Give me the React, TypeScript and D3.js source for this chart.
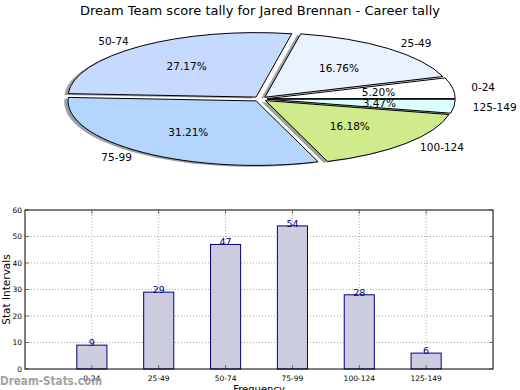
import React from 'react';
import * as d3 from 'd3';

const categories = ['0-24', '25-49', '50-74', '75-99', '100-124', '125-149'];
const values = [9, 29, 47, 54, 28, 6];
const pieColors = ['#ffffff', '#eaf2ff', '#c6d9fe', '#b4d6fe', '#d0eb8b', '#dcfffe'];
const yTicks = [0, 10, 20, 30, 40, 50, 60];
const title = 'Dream Team score tally for Jared Brennan - Career tally';

const FONT = 'DejaVu Sans, sans-serif';

function darken(c: string) {
  const col = d3.rgb(c);
  return d3.rgb(col.r * 0.3, col.g * 0.3, col.b * 0.3).toString();
}

export default function App() {
  const W = 520, H = 390;
  // pie geometry
  const cx = 260.3, cy = 99, rx = 188, ry = 64.5, ex = 0.037;
  const pie = d3.pie<number>().sort(null).startAngle(Math.PI / 2).endAngle(Math.PI / 2 - 2 * Math.PI);
  const arcs = pie(values);
  const arcGen = d3.arc<any>().innerRadius(0).outerRadius(1);
  const total = d3.sum(values);

  // bar chart
  const x = d3.scaleLinear().domain([-1, 6]).range([25, 493]);
  const y = d3.scaleLinear().domain([0, 60]).range([369, 210]);
  const bw = x(0.45) - x(0);
  const [y0, y1] = y.range();
  const [x0, x1] = x.range();

  return (
    <svg width={W} height={H} style={{ position: 'absolute', left: 0, top: 0, background: '#fff' }} fontFamily={FONT}>
      <rect x={0} y={0} width={W} height={H} fill="#fff" />
      <text x={260} y={15} textAnchor="middle" fontSize={13} fill="#000">{title}</text>

      {/* shadows */}
      {arcs.map((a, i) => {
        const m = (a.startAngle + a.endAngle) / 2;
        const dx = Math.sin(m) * ex * rx - 0.02 * rx;
        const dy = -Math.cos(m) * ex * ry + 0.02 * ry;
        return (
          <g key={'s' + i} transform={`translate(${cx + dx},${cy + dy}) scale(${rx},${ry})`}>
            <path d={arcGen(a) as string} fill={darken(pieColors[i])} opacity={0.5} />
          </g>
        );
      })}
      {/* wedges */}
      {arcs.map((a, i) => {
        const m = (a.startAngle + a.endAngle) / 2;
        const dx = Math.sin(m) * ex * rx;
        const dy = -Math.cos(m) * ex * ry;
        return (
          <g key={'w' + i} transform={`translate(${cx + dx},${cy + dy}) scale(${rx},${ry})`}>
            <path d={arcGen(a) as string} fill={pieColors[i]} stroke="#000" strokeWidth={1} vectorEffect="non-scaling-stroke" strokeLinejoin="round" />
          </g>
        );
      })}
      {/* labels */}
      {arcs.map((a, i) => {
        const m = (a.startAngle + a.endAngle) / 2;
        const ox = cx + Math.sin(m) * ex * rx;
        const oy = cy - Math.cos(m) * ex * ry;
        const lx = ox + 1.1 * rx * Math.sin(m);
        const ly = oy - 1.1 * ry * Math.cos(m);
        const px = ox + 0.6 * rx * Math.sin(m);
        const py = oy - 0.6 * ry * Math.cos(m);
        return (
          <g key={'l' + i} fontSize={10.5} fill="#000">
            <text x={lx} y={ly} dy="0.35em" textAnchor={Math.sin(m) > 0 ? 'start' : 'end'}>{categories[i]}</text>
            <text x={px} y={py} dy="0.35em" textAnchor="middle">{((values[i] / total) * 100).toFixed(2) + '%'}</text>
          </g>
        );
      })}

      {/* bar chart grid */}
      {categories.map((c, i) => (
        <line key={'gv' + i} x1={x(i)} x2={x(i)} y1={y0} y2={y1} stroke="#aaa" strokeWidth={1} strokeDasharray="1,2" />
      ))}
      {yTicks.slice(1, -1).map((t) => (
        <line key={'gh' + t} x1={x0} x2={x1} y1={y(t)} y2={y(t)} stroke="#aaa" strokeWidth={1} strokeDasharray="1,2" />
      ))}
      {/* bars */}
      {values.map((v, i) => (
        <rect key={'b' + i} x={x(i) - bw / 2} y={y(v)} width={bw} height={y(0) - y(v)} fill="#ccccdf" stroke="#000080" strokeWidth={1} />
      ))}
      {values.map((v, i) => (
        <text key={'v' + i} x={x(i)} y={y(v) + 1} textAnchor="middle" fontSize={9.5} fill="#000080">{v}</text>
      ))}
      {/* ticks */}
      {yTicks.map((t) => (
        <g key={'yt' + t}>
          <line x1={x0} x2={x0 + 4} y1={y(t)} y2={y(t)} stroke="#000" strokeWidth={0.5} />
          <line x1={x1} x2={x1 - 4} y1={y(t)} y2={y(t)} stroke="#000" strokeWidth={0.5} />
          <text x={x0 - 3} y={y(t)} dy="0.35em" textAnchor="end" fontSize={7.5} fill="#000">{t}</text>
        </g>
      ))}
      {categories.map((c, i) => (
        <g key={'xt' + i}>
          <line x1={x(i)} x2={x(i)} y1={y0} y2={y0 - 4} stroke="#000" strokeWidth={0.5} />
          <line x1={x(i)} x2={x(i)} y1={y1} y2={y1 + 4} stroke="#000" strokeWidth={0.5} />
          <text x={x(i)} y={y0 + 12} textAnchor="middle" fontSize={7.5} fill="#000">{c}</text>
        </g>
      ))}
      <rect x={x0} y={y1} width={x1 - x0} height={y0 - y1} fill="none" stroke="#000" strokeWidth={1} />
      <text transform={`translate(9.5,${(y0 + y1) / 2}) rotate(-90)`} textAnchor="middle" fontSize={10.5} fill="#000">Stat Intervals</text>
      <text x={(x0 + x1) / 2} y={393} textAnchor="middle" fontSize={10} fill="#000">Frequency</text>
      <text x={0} y={385} fontSize={13} fontWeight="bold" fill="#999" opacity={0.9} textLength={102} lengthAdjust="spacingAndGlyphs">Dream-Stats.com</text>
    </svg>
  );
}
